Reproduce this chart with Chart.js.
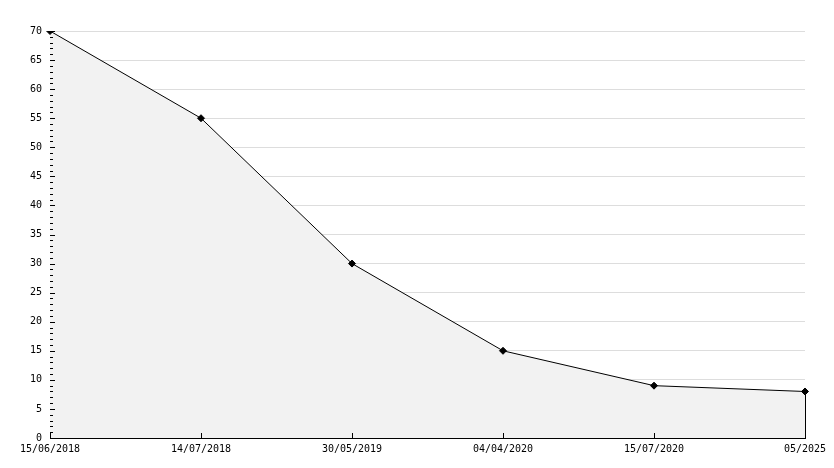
<!DOCTYPE html>
<html>
<head>
<meta charset="utf-8">
<script src="https://cdn.jsdelivr.net/npm/chart.js@4/dist/chart.umd.min.js"></script>
<style>
  html, body { margin: 0; padding: 0; background: #fff; }
  #wrap { width: 834px; height: 468px; }
</style>
</head>
<body>
<div id="wrap"><canvas id="myChart" width="834" height="468"></canvas></div>
<script>
'use strict';

// Dates along the x axis
const dateLabels = ['15/06/2018', '14/07/2018', '30/05/2019', '04/04/2020', '15/07/2020', '05/2025'];
// Values
const values = [70, 55, 30, 15, 9, 8];
// Y axis range
const yMin = 0;
const yMax = 70;
const yStep = 5;

// Draws the small tick marks inside the axes and the closing edge of the fill
const axisMarks = {
   id: 'axisMarks',
   afterDatasetsDraw(chart) {
      const ctx = chart.ctx;
      const x = chart.scales.x;
      const y = chart.scales.y;
      const area = chart.chartArea;
      const base = Math.round(y.getPixelForValue(yMin));
      ctx.save();
      ctx.strokeStyle = '#000';
      ctx.lineWidth = 1;
      ctx.beginPath();
      // minor / major ticks on y
      for (let v = yMin; v <= yMax; v++) {
         const py = Math.round(y.getPixelForValue(v)) + 0.5;
         const len = (v % yStep === 0) ? 5 : 3;
         ctx.moveTo(area.left, py);
         ctx.lineTo(area.left + len, py);
      }
      // ticks on x
      for (let i = 0; i < dateLabels.length; i++) {
         const px = Math.round(x.getPixelForValue(i)) + 0.5;
         ctx.moveTo(px, base);
         ctx.lineTo(px, base - 5);
      }
      // right edge of the filled area
      const last = values.length - 1;
      const ex = Math.round(x.getPixelForValue(last)) + 0.5;
      ctx.moveTo(ex, y.getPixelForValue(values[last]));
      ctx.lineTo(ex, base);
      ctx.stroke();
      ctx.restore();
   }
};

const ctx = document.getElementById('myChart');
const myChart = new Chart(ctx, {
   type: 'line',
   data: {
      labels: dateLabels,
      datasets: [{
         data: values,
         borderColor: '#000',
         borderWidth: 1,
         backgroundColor: '#f2f2f2',
         fill: 'origin',
         tension: 0,
         pointStyle: 'rectRot',
         pointRadius: 3.5,
         pointBackgroundColor: '#000',
         pointBorderColor: '#000',
         pointBorderWidth: 1
      }]
   },
   options: {
      responsive: false,
      animation: false,
      layout: { padding: { top: 31, right: 29, left: 0, bottom: 0 } },
      plugins: {
         legend: { display: false },
         tooltip: { enabled: false }
      },
      scales: {
         x: {
            type: 'category',
            offset: false,
            grid: { display: false },
            border: { display: true, color: '#000', width: 1 },
            ticks: {
               color: '#000',
               font: { family: 'DejaVu Sans Mono', size: 10 },
               maxRotation: 0,
               autoSkip: false,
               padding: -3
            },
            afterFit(scale) { scale.height = 30; }
         },
         y: {
            min: yMin,
            max: yMax,
            grid: { color: '#dddddd', drawTicks: false },
            border: { display: true, color: '#000', width: 1 },
            ticks: {
               stepSize: yStep,
               color: '#000',
               font: { family: 'DejaVu Sans Mono', size: 10 },
               padding: 8
            },
            afterFit(scale) { scale.width = 50; }
         }
      }
   },
   plugins: [axisMarks]
});
</script>
</body>
</html>
